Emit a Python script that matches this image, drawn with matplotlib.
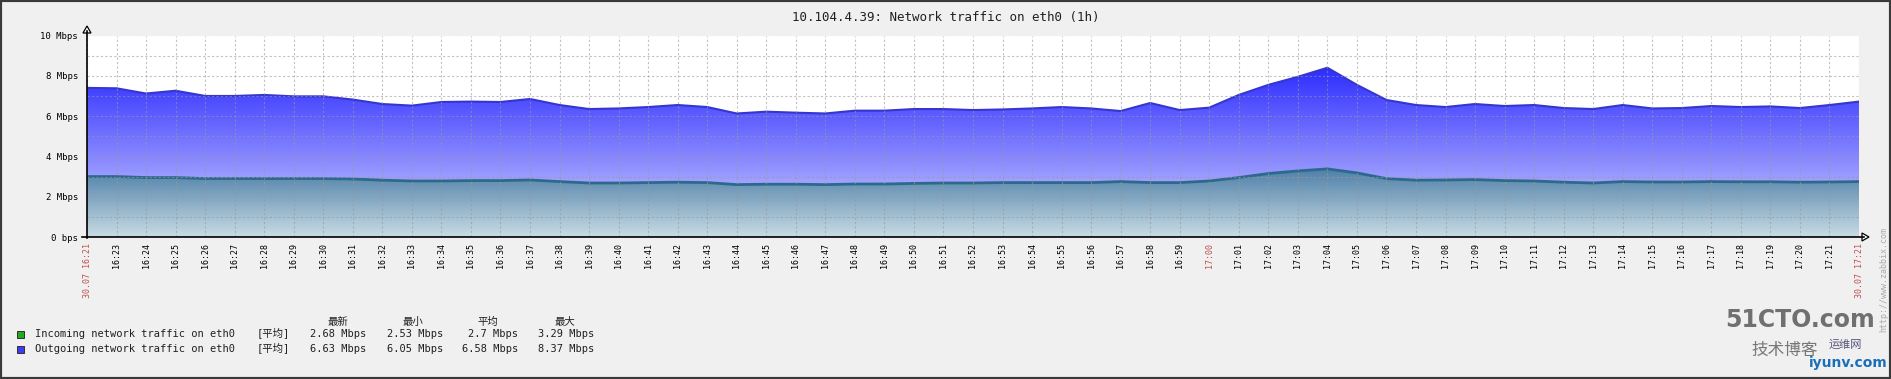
import numpy as np
import matplotlib
matplotlib.use('Agg')
import matplotlib.pyplot as plt
from matplotlib.colors import LinearSegmentedColormap
from matplotlib.patches import Rectangle, Polygon
from matplotlib.lines import Line2D

plt.rcParams['font.family'] = ['DejaVu Sans Mono', 'Noto Sans CJK SC']

W, H = 1891, 379

# ---- data (Mbps, one value per minute) ----
minutes = list(range(61))
outgoing = [7.40, 7.38, 7.12, 7.26, 7.00, 7.00, 7.05, 6.98, 6.98, 6.82,
            6.60, 6.52, 6.70, 6.72, 6.70, 6.85, 6.55, 6.35, 6.38, 6.45,
            6.55, 6.45, 6.13, 6.22, 6.17, 6.13, 6.27, 6.27, 6.35, 6.35,
            6.30, 6.33, 6.38, 6.45, 6.38, 6.25, 6.65, 6.30, 6.42, 7.05,
            7.55, 7.95, 8.40, 7.55, 6.80, 6.55, 6.45, 6.60, 6.50, 6.55,
            6.40, 6.35, 6.55, 6.38, 6.40, 6.50, 6.45, 6.48, 6.40, 6.55,
            6.72]
incoming = [3.00, 3.00, 2.95, 2.95, 2.90, 2.90, 2.90, 2.90, 2.90, 2.88,
            2.82, 2.78, 2.78, 2.80, 2.80, 2.83, 2.75, 2.68, 2.68, 2.70,
            2.72, 2.70, 2.60, 2.62, 2.62, 2.60, 2.63, 2.63, 2.66, 2.68,
            2.68, 2.70, 2.70, 2.70, 2.70, 2.75, 2.70, 2.70, 2.78, 2.95,
            3.15, 3.28, 3.38, 3.18, 2.90, 2.82, 2.83, 2.85, 2.80, 2.78,
            2.72, 2.68, 2.75, 2.73, 2.73, 2.75, 2.74, 2.74, 2.72, 2.73,
            2.75]

x_labels = (['30.07 16:21']
            + ['%d:%02d' % (16 + (22 + m) // 60, (22 + m) % 60) for m in range(1, 60)]
            + ['30.07 17:21'])
red_labels = ['30.07 16:21', '17:00', '30.07 17:21']
y_ticks = [0, 2, 4, 6, 8, 10]
y_labels = ['0 bps', '2 Mbps', '4 Mbps', '6 Mbps', '8 Mbps', '10 Mbps']

title = '10.104.4.39: Network traffic on eth0 (1h)'
series_names = ['Incoming network traffic on eth0', 'Outgoing network traffic on eth0']
series_colors = ['#22aa22', '#3c3cf0']
stat_heads = ['最新', '最小', '平均', '最大']
incoming_stats = ['2.68 Mbps', '2.53 Mbps', '2.7 Mbps', '3.29 Mbps']
outgoing_stats = ['6.63 Mbps', '6.05 Mbps', '6.58 Mbps', '8.37 Mbps']


def fx(px):
    return px / W


def fy(py):
    return 1 - py / H


fig = plt.figure(figsize=(W / 100, H / 100), dpi=100, facecolor='#f0f0f0')
ax = fig.add_axes([fx(87), fy(237), (1859 - 87) / W, (237 - 35.5) / H])
ax.set_facecolor('white')

# gradient fills clipped to the area polygons
grad = np.linspace(0, 1, 256).reshape(-1, 1)
out_cmap = LinearSegmentedColormap.from_list('out', ['#d8d8ff', '#0c0cff'])
in_cmap = LinearSegmentedColormap.from_list('inc', ['#c8dce4', '#4a7ca6'])

poly_out = ax.fill_between(minutes, outgoing, 0, facecolor='none', lw=0)
im_out = ax.imshow(grad, extent=[0, 60, 0, 10], origin='lower', aspect='auto',
                   cmap=out_cmap, zorder=1)
im_out.set_clip_path(poly_out.get_paths()[0], ax.transData)

poly_in = ax.fill_between(minutes, incoming, 0, facecolor='none', lw=0)
im_in = ax.imshow(grad, extent=[0, 60, 0, 3.5], origin='lower', aspect='auto',
                  cmap=in_cmap, zorder=1.2)
im_in.set_clip_path(poly_in.get_paths()[0], ax.transData)
ax.set_xlim(0, 60)
ax.set_ylim(0, 10)

ax.plot(minutes, outgoing, color='#3535d0', lw=1.5, zorder=2)
ax.plot(minutes, incoming, color='#2c6a8c', lw=2, zorder=2.1)

# grid and ticks
ax.set_xticks(minutes, x_labels, rotation=90, fontsize=6)
ax.set_yticks(range(11), [y_labels[y_ticks.index(v)] if v in y_ticks else '' for v in range(11)],
              fontsize=6.5)
for lab in ax.get_xticklabels():
    if lab.get_text() in red_labels:
        lab.set_color('#c05050')
ax.tick_params(length=0)
ax.tick_params(axis='x', pad=4)
ax.tick_params(axis='y', pad=6.5)
ax.set_axisbelow(False)
ax.grid(True, color='#999999', alpha=0.6, ls=(0, (2, 2)), lw=0.8)
for s in ax.spines.values():
    s.set_visible(False)

# axes with arrow heads
fig.add_artist(Line2D([fx(87), fx(87)], [fy(238), fy(31)], color='black', lw=1.2))
fig.add_artist(Line2D([fx(82), fx(1864)], [fy(237), fy(237)], color='black', lw=1.2))
fig.add_artist(Polygon([(fx(83), fy(33)), (fx(91), fy(33)), (fx(87), fy(26))],
                       closed=True, fc='white', ec='black', lw=0.9, transform=fig.transFigure))
fig.add_artist(Polygon([(fx(1862), fy(233)), (fx(1862), fy(241)), (fx(1869), fy(237))],
                       closed=True, fc='white', ec='black', lw=0.9, transform=fig.transFigure))

# title
fig.text(0.5, fy(17), title, ha='center', va='center', fontsize=9, color='#202020')

# legend table
for ci, head in enumerate(stat_heads):
    fig.text(fx([338, 413, 488, 565][ci]), fy(322), head, ha='center', va='center',
             fontsize=7.5, color='#202020')
rows = [(series_names[0], series_colors[0], incoming_stats, 334),
        (series_names[1], series_colors[1], outgoing_stats, 349)]
for name, col, stats, ry in rows:
    fig.add_artist(Rectangle((fx(17), fy(ry + 3.5)), 7 / W, 7 / H, fc=col, ec='#303030',
                             lw=0.7, transform=fig.transFigure))
    fig.text(fx(35), fy(ry), name, ha='left', va='center', fontsize=7.5, color='#202020')
    fig.text(fx(257), fy(ry), '[平均]', ha='left', va='center', fontsize=7.5, color='#202020')
    for ci, val in enumerate(stats):
        fig.text(fx([366, 443, 518, 594][ci]), fy(ry), val, ha='right', va='center',
                 fontsize=7.5, color='#202020')

# side text and watermark
fig.text(fx(1884), fy(280), 'http://www.zabbix.com', rotation=90, ha='center', va='center',
         fontsize=6, color='#aaaaaa')
fig.text(fx(1800), fy(320), '51CTO.com', ha='center', va='center', fontsize=17,
         fontweight='bold', color='#707070', family=['DejaVu Sans'])
fig.text(fx(1785), fy(350), '技术博客', ha='center', va='center', fontsize=12,
         color='#777777', family=['Noto Sans CJK SC'])
fig.text(fx(1845), fy(345), '运维网', ha='center', va='center', fontsize=8,
         color='#555577', family=['Noto Sans CJK SC'])
fig.text(fx(1848), fy(363), 'iyunv.com', ha='center', va='center', fontsize=10,
         fontweight='bold', color='#1a6fb8', family=['DejaVu Sans'])

# image border
fig.add_artist(Rectangle((0, 0), 1, 1, fill=False, ec='#3a3a3a', lw=3,
                         transform=fig.transFigure))

fig.savefig('out.png', dpi=100, facecolor=fig.get_facecolor())
